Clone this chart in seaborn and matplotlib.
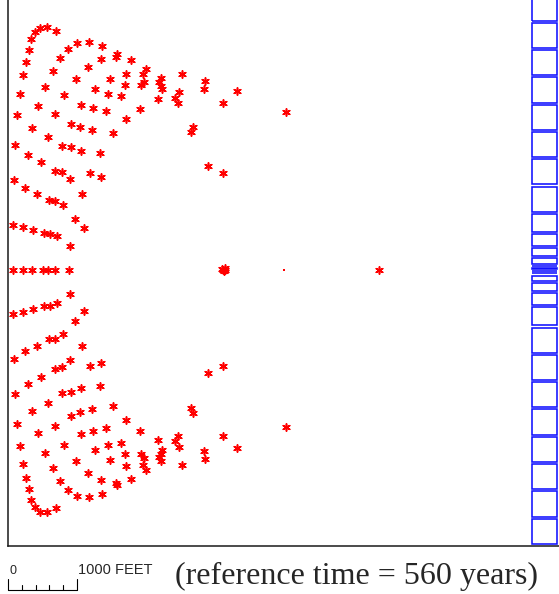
import matplotlib
matplotlib.use("Agg")
import matplotlib.pyplot as plt
import seaborn as sns
import pandas as pd
from matplotlib.patches import Rectangle

# Particle positions, upper half of the section (x from the left boundary,
# y measured upward from the pumping-well row), in plot units.
upper_x = [31.7, 38.7, 26.7, 47.4, 22.7, 20.4, 17.7, 14.4, 11.7, 9.0, 6.7,
           69.0, 80.4, 93.7, 59.7, 51.4, 44.4, 36.4, 29.4, 23.7, 19.7,
           109.0, 107.7, 92.7, 122.4, 79.4, 67.4, 56.0, 46.7, 39.4,
           53.7, 62.4, 72.4, 91.4, 118.0, 101.4, 116.7, 86.4, 99.4, 112.7,
           73.0, 85.0, 97.7, 62.7, 72.0, 83.4, 104.4, 118.0, 131.7,
           137.4, 135.0, 135.4, 132.4, 150.0, 153.0, 151.0, 152.7, 154.0,
           173.7, 196.7, 195.7, 229.0, 214.4, 171.0, 166.7, 169.4, 185.0,
           182.7, 277.7, 199.4, 214.7, 33.0, 46.4, 53.4, 61.4, 81.7, 92.7,
           5.4, 16.4, 28.4, 40.4, 46.7, 54.4, 73.4, 66.7, 75.7,
           4.7, 14.4, 25.0, 36.0, 41.4, 48.4, 61.4]
upper_y = [242.0, 242.4, 237.4, 238.4, 230.4, 219.7, 208.0, 194.4, 176.0, 154.4, 124.4,
           226.4, 227.7, 224.0, 220.7, 211.4, 198.7, 183.0, 163.7, 141.4, 114.7,
           215.7, 213.0, 210.7, 209.7, 203.0, 191.0, 175.0, 156.0, 133.0,
           123.7, 122.7, 118.4, 116.7, 196.0, 190.7, 184.7, 180.4, 175.4, 173.7,
           164.7, 161.4, 158.4, 146.0, 142.7, 139.4, 136.4, 150.7, 161.0,
           200.4, 195.4, 188.0, 184.7, 170.2, 191.7, 187.7, 184.0, 180.7,
           195.7, 189.0, 181.0, 178.7, 166.7, 177.4, 171.7, 166.7, 143.0,
           138.0, 157.4, 103.4, 96.7, 107.4, 99.0, 97.4, 90.7, 96.7, 93.0,
           89.7, 81.7, 76.0, 69.4, 69.0, 64.4, 76.0, 51.0, 41.4,
           44.7, 42.4, 39.7, 36.4, 36.0, 33.4, 24.0]

# Particles lying on the well row itself
row_x = [4.4, 14.4, 24.0, 34.4, 39.7, 46.4, 60.4,
         214.0, 215.5, 216.5, 215.0, 217.0, 370.7]
row_y = [0.0, 0.0, 0.0, 0.0, 0.0, 0.0, 0.0,
         0.5, -1.0, 1.5, -0.5, 0.0, 0.0]

# Particle that has collapsed into the well cell
sink_x = [275.4]
sink_y = [0.0]

# Model row boundaries (distance from the well row) for the right-hand column
row_edges = [2.4, 4.8, 12.5, 22.5, 36.5, 56.8, 84.1, 111.4, 138.7,
             166.0, 193.3, 220.6, 247.9, 275.2]
column_left, column_right = 524.0, 549.0

# Scale bar: 1000 ft spans 68.4 plot units, subdivided every 200 ft
scale_ft = 1000
scale_len = 68.4
scale_step_ft = 200
caption = "(reference time = 560 years)"

# Section is symmetric about the well row
pts = pd.DataFrame({
    "x": upper_x + upper_x + row_x,
    "y": upper_y + [-v for v in upper_y] + row_y,
})

W, H, DPI = 559, 594, 100
sns.set_style("white")
fig = plt.figure(figsize=(W / DPI, H / DPI), dpi=DPI)
ax = fig.add_axes([8.3 / W, 48.5 / H, 550.7 / W, 551.6 / H])

sns.scatterplot(data=pts, x="x", y="y", marker=(6, 2, 0), color="#ff0000",
                s=28, linewidth=1.15, ax=ax, legend=False, zorder=3)
sns.scatterplot(x=sink_x, y=sink_y, marker="s", color="#ff0000", s=3,
                linewidth=0, ax=ax, legend=False, zorder=3)

edges = sorted([-e for e in row_edges] + [0.0] + row_edges)
inset = 1.1
for lo, hi in zip(edges[:-1], edges[1:]):
    ax.add_patch(Rectangle((column_left, lo + inset), column_right - column_left,
                           max(hi - lo - 2 * inset, 0.2), fill=False,
                           edgecolor="#1010ff", linewidth=1.15, zorder=2))

ax.set_xlim(0, 550.7)
ax.set_ylim(-275.8, 275.8)
ax.set_xticks([])
ax.set_yticks([])
ax.set_xlabel("")
ax.set_ylabel("")
for side in ("top", "right"):
    ax.spines[side].set_visible(False)
for side in ("left", "bottom"):
    ax.spines[side].set_color("#1a1a1a")
    ax.spines[side].set_linewidth(1.1)

# Scale bar below the section
bar_y = -320.3
n_div = scale_ft // scale_step_ft
ax.plot([0, scale_len], [bar_y, bar_y], color="black", lw=0.8, clip_on=False)
for i in range(n_div + 1):
    xt = scale_len * i / n_div
    top = -309.3 if i in (0, n_div) else -315.3
    ax.plot([xt, xt], [bar_y, top], color="black", lw=0.8, clip_on=False)

ax.text(1.5, -304.3, "0", family="Liberation Sans", fontsize=9,
        ha="left", va="baseline", clip_on=False)
ax.text(scale_len + 1.5, -304.3, f"{scale_ft} FEET", family="Liberation Sans",
        fontsize=10.5, ha="left", va="baseline", clip_on=False)
fig.text(175 / W, (H - 584) / H, caption, family="Liberation Serif",
         fontsize=23, ha="left", va="baseline")

fig.savefig("out.png", dpi=DPI)
